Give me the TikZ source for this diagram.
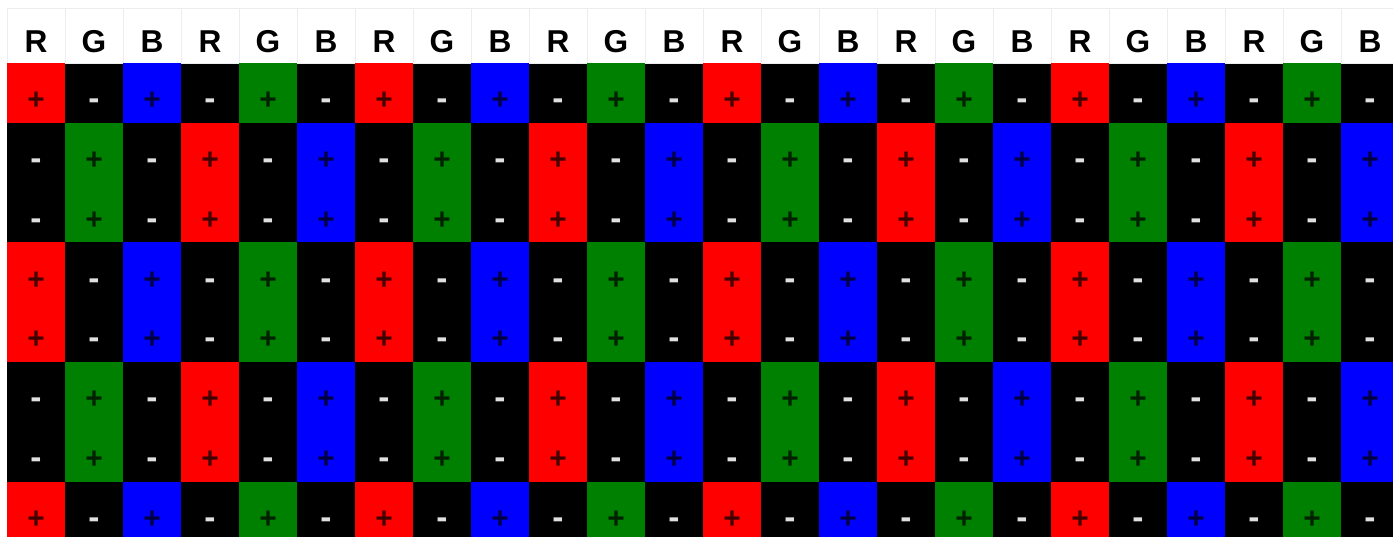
\documentclass[tikz,border=0pt]{standalone}
\usepackage{fontspec}
\setmainfont{Liberation Sans}
\definecolor{p0}{RGB}{255,0,0}
\definecolor{p1}{RGB}{0,128,0}
\definecolor{p2}{RGB}{0,0,255}
\tikzset{
  hd/.style={font=\bfseries\fontsize{18}{18}\selectfont,inner sep=0pt,anchor=base},
  pl/.style={font=\bfseries\fontsize{17}{17}\selectfont,text=black,text opacity=0.75,inner sep=0pt},
  mn/.style={font=\bfseries\fontsize{19}{19}\selectfont,text=white!88!black,inner sep=0pt,yshift=-2pt},
  every picture/.style={line width=0.5pt},
}
\begin{document}
\begin{tikzpicture}[x=0.02cm,y=-0.02cm]
\useasboundingbox (0,0) rectangle (1393,537);
\fill[white] (0,0) rectangle (1393,537);
\fill[black] (7,63) rectangle (1393,537);
% header letters
\foreach \c in {0,...,23}{
  \pgfmathtruncatemacro\k{mod(\c,3)}
  \draw[black!7,fill=white] (7+58*\c,8) rectangle ++(58,55);
  \node[hd] (h\c) at (36+58*\c,53) {\ifcase\k R\or G\or B\fi};
}
% pixel rows: start unit / units / parity
\foreach \s/\n/\p in {0/1/0,1/2/1,3/2/0,5/2/1,7/1/0}{
  \foreach \c in {0,...,23}{
    \pgfmathtruncatemacro\k{mod(\c,3)}
    \pgfmathtruncatemacro\on{mod(\c+\p,2)==0}
    \ifnum\on=1
      \fill[p\k] (7+58*\c,63+59.8*\s) rectangle ++(58,59.8*\n);
    \fi
    \foreach \u in {1,...,\n}{
      \pgfmathsetmacro\yy{63+59.8*(\s+\u-0.5)+8}
      \ifnum\on=1
        \node[pl] (s\s-\c-\u) at (36+58*\c,\yy) {+};
      \else
        \node[mn] (s\s-\c-\u) at (36+58*\c,\yy) {-};
      \fi
    }
  }
}
\end{tikzpicture}
\end{document}
